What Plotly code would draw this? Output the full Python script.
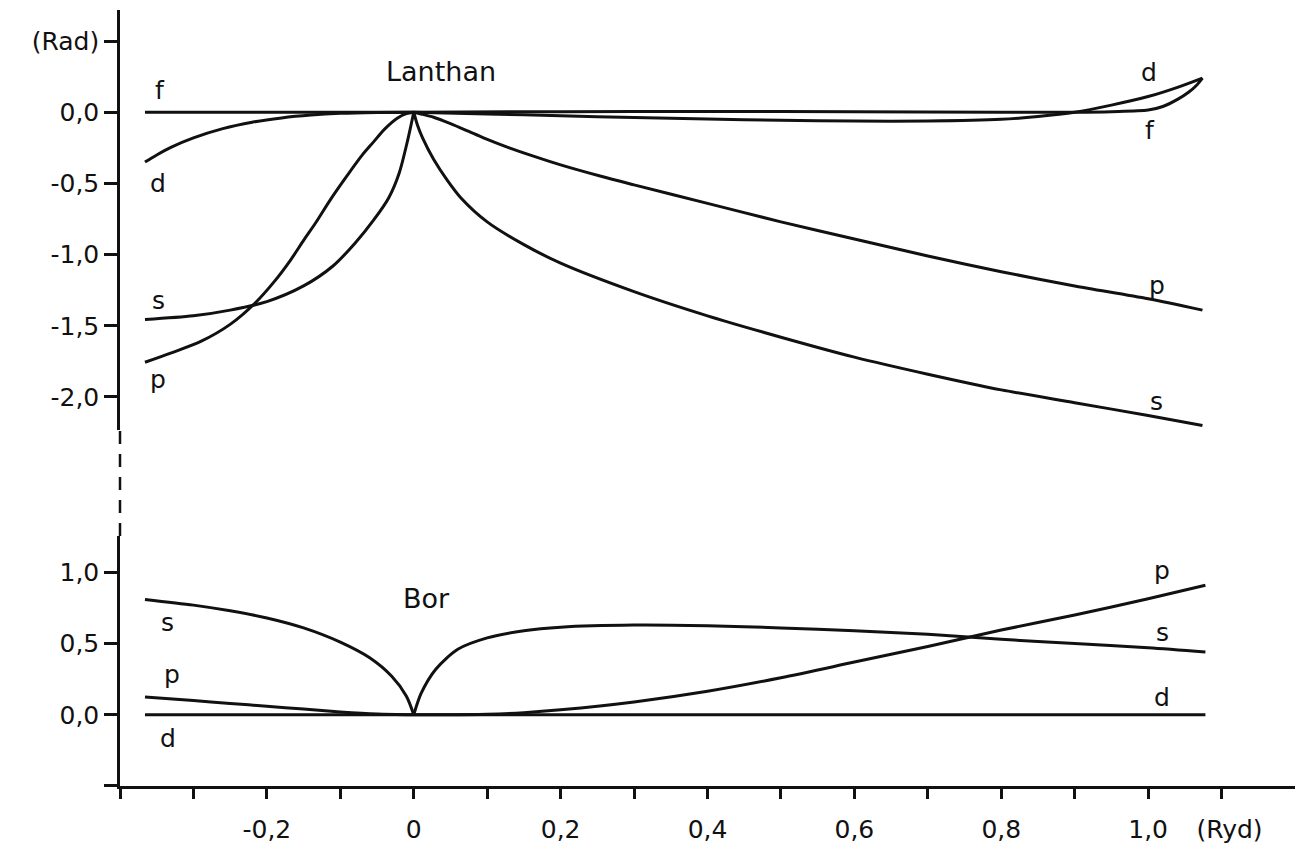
import plotly.graph_objects as go

# ---------------- data ----------------
# Lanthan (upper panel)
la_f_x = [-0.366, -0.2, 0.0, 0.2, 0.4, 0.6, 0.8, 0.9, 0.95, 1.0, 1.02, 1.04, 1.055, 1.066, 1.074]
la_f_y = [0.0, 0.0, 0.0, 0.004, 0.006, 0.004, 0.0, 0.0, 0.004, 0.015, 0.04, 0.09, 0.14, 0.19, 0.24]

la_d_x = [-0.366, -0.35, -0.33, -0.3, -0.26, -0.22, -0.18, -0.14, -0.1, -0.05, 0.0,
          0.1, 0.2, 0.3, 0.4, 0.5, 0.6, 0.7, 0.8, 0.85, 0.9, 0.95, 1.0, 1.04, 1.074]
la_d_y = [-0.35, -0.30, -0.245, -0.18, -0.115, -0.07, -0.04, -0.02, -0.008, -0.002, 0.0,
          -0.012, -0.025, -0.037, -0.048, -0.057, -0.062, -0.062, -0.05, -0.03, 0.0, 0.05, 0.11, 0.175, 0.24]

la_s_x = [-0.366, -0.3, -0.25, -0.2, -0.15, -0.11, -0.08, -0.055, -0.034, -0.02, -0.008, 0.0,
          0.005, 0.012, 0.027, 0.046, 0.064, 0.1, 0.15, 0.2, 0.3, 0.4, 0.5, 0.6, 0.7, 0.8, 0.9, 1.0, 1.074]
la_s_y = [-1.456, -1.43, -1.39, -1.33, -1.22, -1.08, -0.92, -0.76, -0.60, -0.43, -0.19, 0.0,
          -0.09, -0.18, -0.33, -0.48, -0.60, -0.77, -0.93, -1.06, -1.26, -1.43, -1.58, -1.72, -1.84, -1.95, -2.04, -2.13, -2.20]

la_p_x = [-0.366, -0.33, -0.29, -0.25, -0.216, -0.19, -0.168, -0.15, -0.134, -0.113, -0.09, -0.07, -0.055,
          -0.04, -0.022, -0.01, 0.0, 0.01, 0.027, 0.05, 0.075, 0.095, 0.13, 0.164, 0.2, 0.255, 0.3, 0.4,
          0.5, 0.6, 0.7, 0.8, 0.9, 1.0, 1.074]
la_p_y = [-1.756, -1.69, -1.61, -1.49, -1.34, -1.19, -1.04, -0.90, -0.78, -0.61, -0.44, -0.30, -0.21,
          -0.12, -0.04, -0.01, 0.0, -0.012, -0.035, -0.08, -0.135, -0.18, -0.25, -0.31, -0.37, -0.45, -0.51, -0.64,
          -0.77, -0.89, -1.01, -1.12, -1.22, -1.31, -1.39]

# Bor (lower panel)
bo_d_x = [-0.366, 1.078]
bo_d_y = [0.0, 0.0]

bo_s_x = [-0.366, -0.3, -0.25, -0.2, -0.15, -0.1, -0.06, -0.03, -0.01, 0.0,
          0.01, 0.03, 0.06, 0.1, 0.15, 0.2, 0.3, 0.4, 0.5, 0.6, 0.7, 0.8, 0.9, 1.0, 1.078]
bo_s_y = [0.81, 0.77, 0.73, 0.68, 0.61, 0.51, 0.40, 0.27, 0.13, 0.0,
          0.15, 0.32, 0.46, 0.54, 0.59, 0.615, 0.63, 0.625, 0.61, 0.59, 0.565, 0.53, 0.50, 0.47, 0.44]

bo_p_x = [-0.366, -0.3, -0.25, -0.2, -0.15, -0.1, -0.05, 0.0,
          0.05, 0.1, 0.15, 0.2, 0.3, 0.4, 0.5, 0.6, 0.7, 0.8, 0.9, 1.0, 1.078]
bo_p_y = [0.125, 0.10, 0.08, 0.06, 0.04, 0.02, 0.005, 0.0,
          0.0, 0.003, 0.015, 0.035, 0.09, 0.165, 0.26, 0.37, 0.48, 0.595, 0.70, 0.815, 0.91]

# tick labels
x_tickvals = [-0.4, -0.3, -0.2, -0.1, 0.0, 0.1, 0.2, 0.3, 0.4, 0.5, 0.6, 0.7, 0.8, 0.9, 1.0, 1.1]
x_ticktext = ["", "", "-0,2", "", "0", "", "0,2", "", "0,4", "", "0,6", "", "0,8", "", "1,0",
              "\u00a0\u00a0(Ryd)"]
y1_tickvals = [0.5, 0.0, -0.5, -1.0, -1.5, -2.0]
y1_ticktext = ["(Rad)", "0,0", "-0,5", "-1,0", "-1,5", "-2,0"]
y2_tickvals = [1.0, 0.5, 0.0, -0.5]
y2_ticktext = ["1,0", "0,5", "0,0", ""]

# curve labels: (text, x, y, panel)
curve_labels = [
    ("f", -0.345, 0.15, 1), ("d", -0.348, -0.50, 1), ("s", -0.348, -1.32, 1), ("p", -0.348, -1.88, 1),
    ("d", 1.001, 0.28, 1), ("f", 1.003, -0.13, 1),
    ("p", 1.012, -1.22, 1), ("s", 1.012, -2.03, 1),
    ("s", -0.336, 0.65, 2), ("p", -0.329, 0.28, 2), ("d", -0.334, -0.17, 2),
    ("p", 1.019, 1.01, 2), ("s", 1.019, 0.58, 2), ("d", 1.019, 0.12, 2),
]
panel_titles = [("Lanthan", 0.037, 0.285, 1), ("Bor", 0.017, 0.815, 2)]

# ---------------- figure ----------------
INK = "#111111"
FONT = "DejaVu Sans"
FS = 25
LW = 3

fig = go.Figure()


def add_curve(xs, ys, xa, ya):
    """draw a curve; if it has a cusp at x = 0, draw each side as its own smooth piece"""
    if 0.0 in xs and xs[0] < 0 < xs[-1]:
        i = xs.index(0.0)
        parts = [(xs[:i + 1], ys[:i + 1]), (xs[i:], ys[i:])]
    else:
        parts = [(xs, ys)]
    for px, py in parts:
        fig.add_trace(go.Scatter(x=px, y=py, mode="lines",
                                 line=dict(color=INK, width=LW, shape="spline", smoothing=0.8),
                                 xaxis=xa, yaxis=ya, showlegend=False, hoverinfo="skip"))


add_curve(la_f_x, la_f_y, "x", "y")
add_curve(la_d_x, la_d_y, "x", "y")
add_curve(la_s_x, la_s_y, "x", "y")
add_curve(la_p_x, la_p_y, "x", "y")
add_curve(bo_d_x, bo_d_y, "x2", "y2")
add_curve(bo_s_x, bo_s_y, "x2", "y2")
add_curve(bo_p_x, bo_p_y, "x2", "y2")

top_dom = [0.4591, 1.0]
bot_dom = [0.0, 0.3223]
xr = [-0.4, 1.2]

common_y = dict(showgrid=False, zeroline=False, showline=True, linecolor=INK, linewidth=2.5,
                ticks="outside", ticklen=13, tickwidth=2.5, tickcolor=INK,
                tickfont=dict(family=FONT, size=FS, color=INK), tickmode="array",
                ticklabelstandoff=0)

fig.update_layout(
    width=1299, height=848,
    margin=dict(l=120, r=4, t=10, b=56),
    paper_bgcolor="white", plot_bgcolor="white",
    xaxis=dict(domain=[0, 1], range=xr, anchor="y", visible=False, showgrid=False, zeroline=False),
    yaxis=dict(domain=top_dom, range=[-2.23, 0.718], anchor="x",
               tickvals=y1_tickvals, ticktext=y1_ticktext, **common_y),
    xaxis2=dict(domain=[0, 1], range=xr, anchor="y2", showgrid=False, zeroline=False,
                showline=True, linecolor=INK, linewidth=2.5,
                ticks="outside", ticklen=10, tickwidth=2.5, tickcolor=INK,
                tickmode="array", tickvals=x_tickvals, ticktext=x_ticktext,
                tickfont=dict(family=FONT, size=FS, color=INK), ticklabelstandoff=9),
    yaxis2=dict(domain=bot_dom, range=[-0.5, 1.256], anchor="x2",
                tickvals=y2_tickvals, ticktext=y2_ticktext, **common_y),
    showlegend=False,
)

# broken (dashed) part of the vertical axis between the two panels
fig.add_shape(type="line", xref="paper", yref="paper", x0=0, x1=0,
              y0=bot_dom[1], y1=top_dom[0], line=dict(color=INK, width=2.5, dash="13px,10px"))

for text, x, y, panel in curve_labels:
    fig.add_annotation(text=text, x=x, y=y, xref="x" if panel == 1 else "x2",
                       yref="y" if panel == 1 else "y2", showarrow=False,
                       font=dict(family=FONT, size=FS, color=INK))
for text, x, y, panel in panel_titles:
    fig.add_annotation(text=text, x=x, y=y, xref="x" if panel == 1 else "x2",
                       yref="y" if panel == 1 else "y2", showarrow=False,
                       font=dict(family=FONT, size=27, color=INK))

fig.write_html("out.html")
